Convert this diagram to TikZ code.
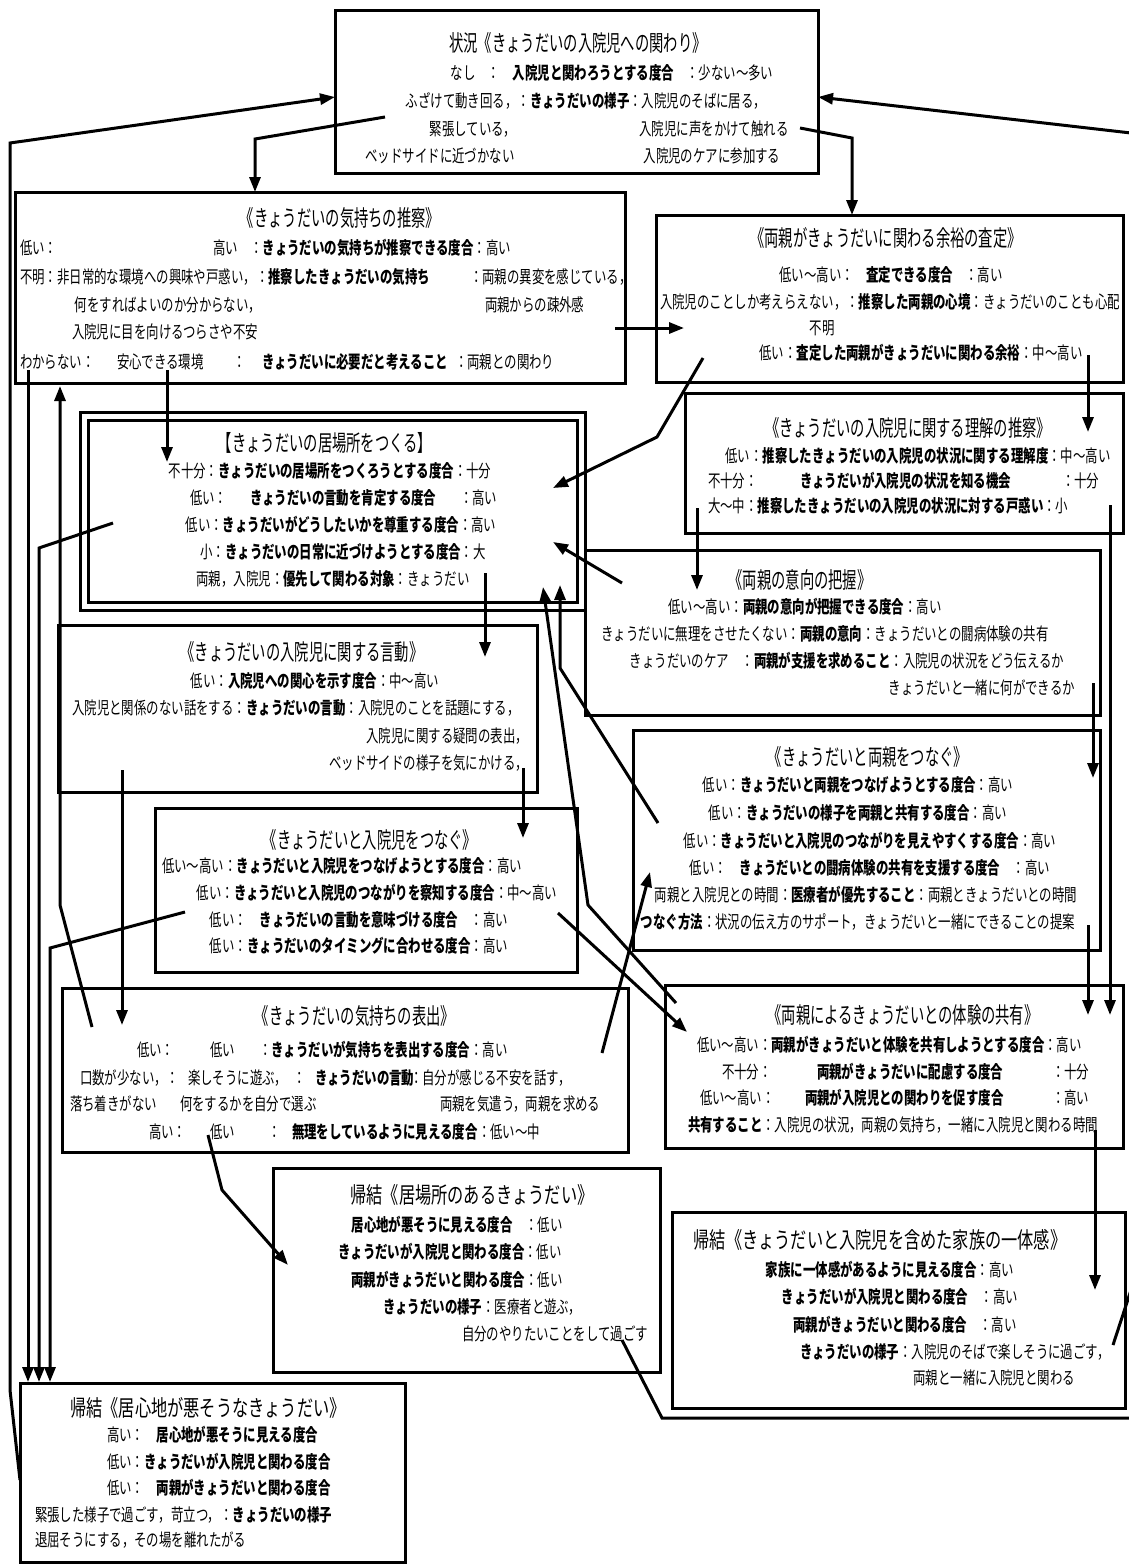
\documentclass[tikz,border=0pt]{standalone}
\usepackage{fontspec}
\setmainfont{Noto Sans CJK JP}[FakeStretch=0.71]
\newfontfamily\ttlfont{Noto Sans CJK JP}[FakeStretch=0.635]
\newfontfamily\ttkfont{Noto Sans CJK JP}[FakeStretch=0.72]
\usetikzlibrary{arrows.meta}
\tikzset{
 bx/.style={draw,line width=3pt,rectangle,inner sep=0pt,outer sep=0pt},
 tx/.style={inner sep=0pt,outer sep=0pt,font=\fontsize{17.5}{19}\selectfont},
 tt/.style={inner sep=0pt,outer sep=0pt,font=\ttlfont\fontsize{22.5}{25}\selectfont},
 tk/.style={inner sep=0pt,outer sep=0pt,font=\ttkfont\fontsize{22.5}{25}\selectfont},
 cn/.style={line width=3pt,-{Triangle[length=15pt,width=11pt]}},
 ln/.style={line width=3pt},
}
\begin{document}
\begin{tikzpicture}[x=1pt,y=-1pt]
\useasboundingbox (0,0) rectangle (1129,1566);
\fill[white] (0,0) rectangle (1129,1566);
\clip (0,0) rectangle (1129,1566);
% ---------- boxes
\node[bx,minimum width=483pt,minimum height=163pt] (b1) at (576.5,91.5) {};
\node[bx,minimum width=610pt,minimum height=191pt] (b2) at (320,287.5) {};
\node[bx,minimum width=467pt,minimum height=167pt] (b3) at (889.5,298.5) {};
\node[bx,minimum width=505pt,minimum height=198pt] (b4) at (332.5,511) {};
\node[bx,minimum width=489pt,minimum height=182pt] (b4i) at (332.5,511) {};
\node[bx,minimum width=438pt,minimum height=140pt] (b5) at (904,463) {};
\node[bx,minimum width=479pt,minimum height=167pt] (b6) at (297.5,708.5) {};
\node[bx,minimum width=515pt,minimum height=165pt] (b7) at (842.5,632.5) {};
\node[bx,minimum width=467pt,minimum height=220pt] (b8) at (866.5,840) {};
\node[bx,minimum width=422pt,minimum height=164pt] (b9) at (366,890) {};
\node[bx,minimum width=566pt,minimum height=164pt] (b10) at (345,1070) {};
\node[bx,minimum width=458pt,minimum height=163pt] (b11) at (894,1066.5) {};
\node[bx,minimum width=387pt,minimum height=204pt] (b12) at (466.5,1270) {};
\node[bx,minimum width=453pt,minimum height=196pt] (b13) at (898.5,1310) {};
\node[bx,minimum width=385pt,minimum height=179pt] (b14) at (212.5,1472.5) {};
% ---------- B1
\node[tt] (n1) at (578,43) {状況《きょうだいの入院児への関わり》};
\node[tx] (n1a) at (612,73) {なし　：　\textbf{入院児と関わろうとする度合}　：少ない～多い};
\node[tx] (n1b) at (586,101) {ふざけて動き回る，：\textbf{きょうだいの様子}：入院児のそばに居る，};
\node[tx] (n1c) at (473,129) {緊張している，};
\node[tx] (n1d) at (714,129) {入院児に声をかけて触れる};
\node[tx] (n1e) at (440,156) {ベッドサイドに近づかない};
\node[tx] (n1f) at (712,156) {入院児のケアに参加する};
% ---------- B2
\node[tt] (n2) at (340,218) {《きょうだいの気持ちの推察》};
\node[tx,anchor=west] (n2a) at (20,248) {低い：};
\node[tx,anchor=west] (n2b) at (213,248) {高い　：\textbf{きょうだいの気持ちが推察できる度合}：高い};
\node[tx,anchor=west] (n2c) at (20,277) {不明：非日常的な環境への興味や戸惑い，：\textbf{推察したきょうだいの気持ち}};
\node[tx,anchor=west] (n2d) at (470,277) {：両親の異変を感じている，};
\node[tx] (n2e) at (168,305) {何をすればよいのか分からない，};
\node[tx,anchor=west] (n2f) at (485,305) {両親からの疎外感};
\node[tx] (n2g) at (165,332) {入院児に目を向けるつらさや不安};
\node[tx,anchor=west] (n2h) at (20,362) {わからない：};
\node[tx,anchor=west] (n2i) at (117,362) {安心できる環境};
\node[tx] (n2j) at (240,362) {：};
\node[tx,anchor=west] (n2k) at (262,362) {\textbf{きょうだいに必要だと考えること}};
\node[tx,anchor=west] (n2l) at (455,362) {：両親との関わり};
% ---------- B3
\node[tt] (n3) at (886,238) {《両親がきょうだいに関わる余裕の査定》};
\node[tx] (n3a) at (891,275) {低い～高い：　\textbf{査定できる度合}　：高い};
\node[tx] (n3b) at (890,302) {入院児のことしか考えらえない，：\textbf{推察した両親の心境}：きょうだいのことも心配};
\node[tx] (n3c) at (822,328) {不明};
\node[tx] (n3d) at (921,353) {低い：\textbf{査定した両親がきょうだいに関わる余裕}：中～高い};
% ---------- B4
\node[tt] (n4) at (325,443) {【きょうだいの居場所をつくる】};
\node[tx] (n4a) at (330,471) {不十分：\textbf{きょうだいの居場所をつくろうとする度合}：十分};
\node[tx,anchor=west] (n4b) at (190,498) {低い：};
\node[tx,anchor=west] (n4c) at (250,498) {\textbf{きょうだいの言動を肯定する度合}};
\node[tx,anchor=west] (n4d) at (460,498) {：高い};
\node[tx] (n4e) at (341,525) {低い：\textbf{きょうだいがどうしたいかを尊重する度合}：高い};
\node[tx] (n4f) at (343,552) {小：\textbf{きょうだいの日常に近づけようとする度合}：大};
\node[tx] (n4g) at (333,579) {両親，入院児：\textbf{優先して関わる対象}：きょうだい};
% ---------- B5
\node[tt] (n5) at (908,428) {《きょうだいの入院児に関する理解の推察》};
\node[tx] (n5a) at (918,456) {低い：\textbf{推察したきょうだいの入院児の状況に関する理解度}：中～高い};
\node[tx,anchor=west] (n5b) at (708,481) {不十分：};
\node[tx,anchor=west] (n5c) at (800,481) {\textbf{きょうだいが入院児の状況を知る機会}};
\node[tx,anchor=west] (n5d) at (1062,481) {：十分};
\node[tx,anchor=west] (n5e) at (708,506) {大～中：\textbf{推察したきょうだいの入院児の状況に対する戸惑い}：小};
% ---------- B6
\node[tt] (n6) at (302,652) {《きょうだいの入院児に関する言動》};
\node[tx] (n6a) at (315,681) {低い：\textbf{入院児への関心を示す度合}：中～高い};
\node[tx] (n6b) at (296,708) {入院児と関係のない話をする：\textbf{きょうだいの言動}：入院児のことを話題にする，};
\node[tx,anchor=east] (n6c) at (528,736) {入院児に関する疑問の表出，};
\node[tx,anchor=east] (n6d) at (528,763) {ベッドサイドの様子を気にかける，};
% ---------- B7
\node[tt] (n7) at (800,580) {《両親の意向の把握》};
\node[tx] (n7a) at (805,607) {低い～高い：\textbf{両親の意向が把握できる度合}：高い};
\node[tx] (n7b) at (825,634) {きょうだいに無理をさせたくない：\textbf{両親の意向}：きょうだいとの闘病体験の共有};
\node[tx] (n7c) at (847,661) {きょうだいのケア　：\textbf{両親が支援を求めること}：入院児の状況をどう伝えるか};
\node[tx,anchor=east] (n7d) at (1075,688) {きょうだいと一緒に何ができるか};
% ---------- B8
\node[tt] (n8) at (868,757) {《きょうだいと両親をつなぐ》};
\node[tx] (n8a) at (858,785) {低い：\textbf{きょうだいと両親をつなげようとする度合}：高い};
\node[tx] (n8b) at (858,813) {低い：\textbf{きょうだいの様子を両親と共有する度合}：高い};
\node[tx] (n8c) at (870,841) {低い：\textbf{きょうだいと入院児のつながりを見えやすくする度合}：高い};
\node[tx] (n8d) at (870,868) {低い：　\textbf{きょうだいとの闘病体験の共有を支援する度合}　：高い};
\node[tx] (n8e) at (866,895) {両親と入院児との時間：\textbf{医療者が優先すること}：両親ときょうだいとの時間};
\node[tx] (n8f) at (858,922) {\textbf{つなぐ方法}：状況の伝え方のサポート，きょうだいと一緒にできることの提案};
% ---------- B9
\node[tt] (n9) at (370,840) {《きょうだいと入院児をつなぐ》};
\node[tx] (n9a) at (342,866) {低い～高い：\textbf{きょうだいと入院児をつなげようとする度合}：高い};
\node[tx] (n9b) at (377,893) {低い：\textbf{きょうだいと入院児のつながりを察知する度合}：中～高い};
\node[tx] (n9c) at (359,920) {低い：　\textbf{きょうだいの言動を意味づける度合}　：高い};
\node[tx] (n9d) at (359,946) {低い：\textbf{きょうだいのタイミングに合わせる度合}：高い};
% ---------- B10
\node[tt] (n10) at (355,1016) {《きょうだいの気持ちの表出》};
\node[tx,anchor=west] (n10a) at (137,1050) {低い：};
\node[tx,anchor=west] (n10b) at (210,1050) {低い};
\node[tx,anchor=west] (n10c) at (259,1050) {：\textbf{きょうだいが気持ちを表出する度合}：高い};
\node[tx,anchor=west] (n10d) at (80,1078) {口数が少ない，：};
\node[tx,anchor=west] (n10e) at (188,1078) {楽しそうに遊ぶ，};
\node[tx] (n10f) at (300,1078) {：};
\node[tx,anchor=west] (n10g) at (315,1078) {\textbf{きょうだいの言動}};
\node[tx,anchor=west] (n10h) at (410,1078) {：自分が感じる不安を話す，};
\node[tx,anchor=west] (n10i) at (70,1104) {落ち着きがない};
\node[tx,anchor=west] (n10j) at (180,1104) {何をするかを自分で選ぶ};
\node[tx,anchor=west] (n10k) at (440,1104) {両親を気遣う，両親を求める};
\node[tx,anchor=west] (n10l) at (149,1132) {高い：};
\node[tx,anchor=west] (n10m) at (210,1132) {低い};
\node[tx] (n10n) at (275,1132) {：};
\node[tx,anchor=west] (n10o) at (292,1132) {\textbf{無理をしているように見える度合}};
\node[tx,anchor=west] (n10p) at (478,1132) {：低い～中};
% ---------- B11
\node[tt] (n11) at (903,1015) {《両親によるきょうだいとの体験の共有》};
\node[tx,anchor=west] (n11a) at (697,1045) {低い～高い：\textbf{両親がきょうだいと体験を共有しようとする度合}：高い};
\node[tx,anchor=west] (n11b) at (722,1072) {不十分：};
\node[tx,anchor=west] (n11c) at (817,1072) {\textbf{両親がきょうだいに配慮する度合}};
\node[tx,anchor=west] (n11d) at (1052,1072) {：十分};
\node[tx,anchor=west] (n11e) at (700,1098) {低い～高い：};
\node[tx,anchor=west] (n11f) at (805,1098) {\textbf{両親が入院児との関わりを促す度合}};
\node[tx,anchor=west] (n11g) at (1052,1098) {：高い};
\node[tx,anchor=west] (n11h) at (688,1125) {\textbf{共有すること}：入院児の状況，両親の気持ち，一緒に入院児と関わる時間};
% ---------- B12
\node[tk] (n12) at (472,1195) {帰結《居場所のあるきょうだい》};
\node[tx] (n12a) at (457,1225) {\textbf{居心地が悪そうに見える度合}　：低い};
\node[tx] (n12b) at (450,1252) {\textbf{きょうだいが入院児と関わる度合}：低い};
\node[tx] (n12c) at (457,1280) {\textbf{両親がきょうだいと関わる度合}：低い};
\node[tx,anchor=west] (n12d) at (383,1307) {\textbf{きょうだいの様子}：医療者と遊ぶ，};
\node[tx,anchor=west] (n12e) at (462,1334) {自分のやりたいことをして過ごす};
% ---------- B13
\node[tk] (n13) at (880,1240) {帰結《きょうだいと入院児を含めた家族の一体感》};
\node[tx] (n13a) at (890,1270) {\textbf{家族に一体感があるように見える度合}：高い};
\node[tx] (n13b) at (900,1297) {\textbf{きょうだいが入院児と関わる度合}　：高い};
\node[tx] (n13c) at (905,1325) {\textbf{両親がきょうだいと関わる度合}　：高い};
\node[tx,anchor=west] (n13d) at (800,1352) {\textbf{きょうだいの様子}：入院児のそばで楽しそうに過ごす，};
\node[tx,anchor=east] (n13e) at (1075,1378) {両親と一緒に入院児と関わる};
% ---------- B14
\node[tk] (n14) at (208,1408) {帰結《居心地が悪そうなきょうだい》};
\node[tx,anchor=west] (n14a) at (107,1435) {高い：　\textbf{居心地が悪そうに見える度合}};
\node[tx,anchor=west] (n14b) at (107,1462) {低い：\textbf{きょうだいが入院児と関わる度合}};
\node[tx,anchor=west] (n14c) at (107,1488) {低い：　\textbf{両親がきょうだいと関わる度合}};
\node[tx,anchor=west] (n14d) at (35,1515) {緊張した様子で過ごす，苛立つ，：\textbf{きょうだいの様子}};
\node[tx,anchor=west] (n14e) at (35,1540) {退屈そうにする，その場を離れたがる};
% ---------- connector coordinates
\coordinate (p1) at (385,117); \coordinate (p1m) at (255,139);
\coordinate (p2) at (800,128); \coordinate (p2m) at (852,138);
\coordinate (p3) at (20,1480); \coordinate (p3a) at (10,1390); \coordinate (p3b) at (10,143);
\coordinate (p4) at (1113,1345); \coordinate (p4a) at (1131,1290); \coordinate (p4b) at (1131,133);
\coordinate (p5) at (622,1340); \coordinate (p5a) at (662,1418); \coordinate (p5b) at (1131,1418);
\coordinate (p6) at (615,328); \coordinate (p6e) at (684,328);
\coordinate (p7) at (167,370); \coordinate (p7e) at (167,462);
\coordinate (p8) at (703,358); \coordinate (p8m) at (657,437); \coordinate (p8e) at (553,488);
\coordinate (p9) at (1088,355); \coordinate (p9e) at (1088,432);
\coordinate (p10) at (697,508); \coordinate (p10e) at (697,590);
\coordinate (p11) at (1110,505); \coordinate (p11e) at (1110,1015);
\coordinate (p12) at (622,583); \coordinate (p12e) at (553,542);
\coordinate (p13) at (1093,683); \coordinate (p13e) at (1093,778);
\coordinate (p14) at (1088,925); \coordinate (p14e) at (1088,1015);
\coordinate (p15) at (485,573); \coordinate (p15e) at (485,657);
\coordinate (p16) at (523,768); \coordinate (p16e) at (523,838);
\coordinate (p17) at (122,770); \coordinate (p17e) at (122,1025);
\coordinate (p18) at (558,913); \coordinate (p18e) at (687,1032);
\coordinate (p19) at (185,912); \coordinate (p19m) at (50,948); \coordinate (p19e) at (50,1382);
\coordinate (p20) at (113,523); \coordinate (p20m) at (39,548); \coordinate (p20e) at (39,1382);
\coordinate (p21) at (28,370); \coordinate (p21e) at (28,1382);
\coordinate (p22) at (92,1027); \coordinate (p22m) at (60,905); \coordinate (p22e) at (60,386);
\coordinate (p23) at (658,823); \coordinate (p23m) at (560,668); \coordinate (p23e) at (560,585);
\coordinate (p24) at (676,1003); \coordinate (p24m) at (588,905); \coordinate (p24e) at (543,587);
\coordinate (p25) at (602,1053); \coordinate (p25e) at (650,872);
\coordinate (p26) at (208,1135); \coordinate (p26m) at (222,1190); \coordinate (p26e) at (288,1265);
\coordinate (p27) at (1095,1130); \coordinate (p27e) at (1095,1290);
% ---------- connectors
\draw[cn] (p1) -- (p1m) -- (p1m |- b2.north);
\draw[cn] (p2) -- (p2m) -- (p2m |- b3.north);
\draw[cn] (p3) -- (p3a) -- (p3b) -- (b1.west |- 0,97);
\draw[ln] (p4) -- (p4a) -- (p4b);
\draw[cn] (p4b) -- (b1.east |- 0,97);
\draw[ln] (p5) -- (p5a) -- (p5b);
\draw[cn] (p6) -- (p6e);
\draw[cn] (p7) -- (p7e);
\draw[cn] (p8) -- (p8m) -- (p8e);
\draw[cn] (p9) -- (p9e);
\draw[cn] (p10) -- (p10e);
\draw[cn] (p11) -- (p11e);
\draw[cn] (p12) -- (p12e);
\draw[cn] (p13) -- (p13e);
\draw[cn] (p14) -- (p14e);
\draw[cn] (p15) -- (p15e);
\draw[cn] (p16) -- (p16e);
\draw[cn] (p17) -- (p17e);
\draw[cn] (p18) -- (p18e);
\draw[cn] (p19) -- (p19m) -- (p19e);
\draw[cn] (p20) -- (p20m) -- (p20e);
\draw[cn] (p21) -- (p21e);
\draw[cn] (p22) -- (p22m) -- (p22e);
\draw[cn] (p23) -- (p23m) -- (p23e);
\draw[cn] (p24) -- (p24m) -- (p24e);
\draw[cn] (p25) -- (p25e);
\draw[cn] (p26) -- (p26m) -- (p26e);
\draw[cn] (p27) -- (p27e);
\end{tikzpicture}
\end{document}
